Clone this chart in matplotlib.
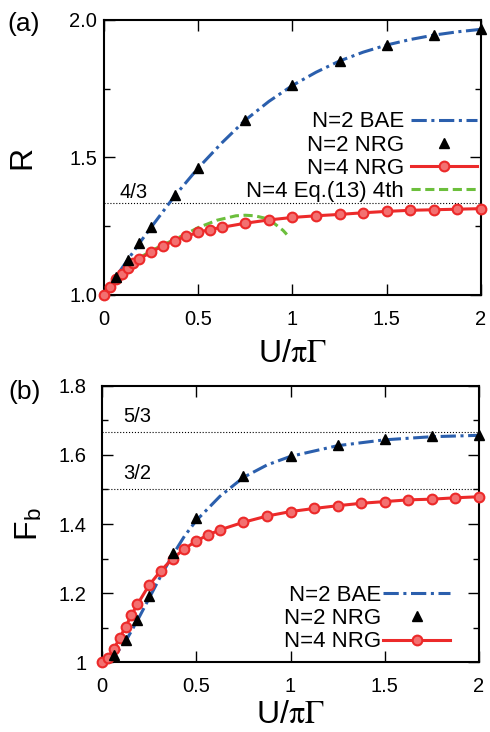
import matplotlib
matplotlib.use('Agg')
import matplotlib.pyplot as plt

plt.rcParams['font.family'] = ['Liberation Sans', 'DejaVu Sans']
plt.rcParams['mathtext.fontset'] = 'stix'

# ---- panel (a): R ----
bae_a_x = [0, 0.0625, 0.125, 0.1875, 0.25, 0.375, 0.5, 0.625, 0.75, 0.875,
           1.0, 1.125, 1.25, 1.375, 1.5, 1.625, 1.75, 1.875, 2.0]
bae_a_y = [1.0, 1.065, 1.127, 1.188, 1.246, 1.36, 1.462, 1.553, 1.636, 1.704,
           1.762, 1.81, 1.851, 1.883, 1.909, 1.929, 1.945, 1.957, 1.966]

nrg2_x = [0.0625, 0.125, 0.1875, 0.25, 0.375, 0.5, 0.75, 1.0, 1.25, 1.5, 1.75, 2.0]
nrg2_a_y = [1.067, 1.127, 1.188, 1.246, 1.362, 1.463, 1.636, 1.764, 1.851, 1.909, 1.945, 1.966]

nrg4_x = [0, 0.03125, 0.0625, 0.09375, 0.125, 0.15625, 0.1875, 0.25, 0.3125, 0.375,
          0.4375, 0.5, 0.5625, 0.625, 0.75, 0.875, 1.0, 1.125, 1.25, 1.375,
          1.5, 1.625, 1.75, 1.875, 2.0]
nrg4_a_y = [1.0, 1.03, 1.057, 1.078, 1.097, 1.115, 1.13, 1.157, 1.178, 1.198,
            1.214, 1.228, 1.238, 1.246, 1.261, 1.273, 1.282, 1.288, 1.293, 1.299,
            1.304, 1.308, 1.31, 1.312, 1.314]

eq13_x = [0, 0.05, 0.1, 0.15, 0.2, 0.25, 0.3, 0.4, 0.5, 0.6, 0.7, 0.75, 0.8,
          0.85, 0.9, 0.95, 0.97]
eq13_y = [1.0, 1.047, 1.085, 1.115, 1.14, 1.16, 1.178, 1.21, 1.245, 1.272, 1.288,
          1.29, 1.288, 1.28, 1.262, 1.235, 1.22]

# ---- panel (b): F_b ----
bae_b_x = [0, 0.0625, 0.125, 0.1875, 0.25, 0.3125, 0.375, 0.4375, 0.5, 0.625,
           0.75, 0.875, 1.0, 1.25, 1.5, 1.75, 2.0]
bae_b_y = [1.0, 1.015, 1.06, 1.12, 1.185, 1.25, 1.31, 1.365, 1.41, 1.48,
           1.535, 1.571, 1.596, 1.627, 1.644, 1.653, 1.657]

nrg2_b_y = [1.02, 1.064, 1.122, 1.19, 1.317, 1.416, 1.539, 1.598, 1.629, 1.646, 1.655, 1.658]

nrg4_b_y = [1.0, 1.013, 1.037, 1.07, 1.102, 1.136, 1.167, 1.223, 1.265, 1.30,
            1.328, 1.351, 1.368, 1.383, 1.405, 1.423, 1.436, 1.445, 1.453, 1.46,
            1.465, 1.47, 1.472, 1.476, 1.479]

blue = '#2b5fad'
red = '#ec2a2a'
green = '#6cbf3c'
bae_dash = (0, (5, 1.5, 1, 1.5))


def style_axes(ax, ypad, xlabelpad):
    ax.tick_params(which='both', direction='in', top=True, right=True,
                   labelsize=14.5, width=1.0)
    ax.tick_params(which='major', length=8)
    ax.tick_params(which='minor', length=4)
    ax.tick_params(axis='x', pad=11)
    ax.tick_params(axis='y', pad=ypad)
    for s in ax.spines.values():
        s.set_linewidth(1.5)
    ax.set_xlim(0, 2)
    ax.set_xticks([0, 0.5, 1, 1.5, 2])
    ax.set_xticklabels(['0', '0.5', '1', '1.5', '2'])
    ax.set_xlabel(r'U/$\mathrm{\pi\Gamma}$', fontsize=23, labelpad=xlabelpad)


def draw_nrg(ax, y2, y4):
    ax.plot(nrg2_x, y2, linestyle='none', marker='^', color='black', markersize=7.5,
            label='N=2 NRG', clip_on=False, zorder=4)
    ax.plot(nrg4_x, y4, color=red, linewidth=2.2, marker='o', markersize=7,
            markerfacecolor='#f37070', markeredgecolor=red, markeredgewidth=1.5,
            label='N=4 NRG', clip_on=False, zorder=3)


fig = plt.figure(figsize=(4.9, 7.32), dpi=100)

# panel (a)
ax1 = fig.add_axes([0.2122, 0.597, 0.7694, 0.3757])
ax1.axhline(4/3, color='black', linestyle=':', linewidth=0.8)
ax1.text(0.08, 1.352, '4/3', fontsize=14.5)
ax1.plot(bae_a_x, bae_a_y, color=blue, linestyle=bae_dash, linewidth=2.2,
         label='N=2 BAE')
draw_nrg(ax1, nrg2_a_y, nrg4_a_y)
ax1.plot(eq13_x, eq13_y, color=green, linestyle=(0, (3, 1.5)), linewidth=2.2,
         label='N=4 Eq.(13) 4th')
ax1.set_ylim(1.0, 2.0)
ax1.set_yticks([1.0, 1.5, 2.0])
ax1.set_yticklabels(['1.0', '1.5', '2.0'])
ax1.set_yticks([1.25, 1.75], minor=True)
style_axes(ax1, 5, 7)
ax1.set_ylabel('R', fontsize=23, labelpad=23)
ax1.legend(loc='upper right', bbox_to_anchor=(0.99, 0.668), frameon=False,
           markerfirst=False, fontsize=16, handlelength=3.0, handletextpad=0.3,
           labelspacing=0.1, borderpad=0, borderaxespad=0)
fig.text(7/490, 1 - 12/732, '(a)', fontsize=19, va='top', ha='left')

# panel (b)
ax2 = fig.add_axes([0.2082, 0.0956, 0.7694, 0.3771])
ax2.axhline(5/3, color='black', linestyle=':', linewidth=0.8)
ax2.axhline(3/2, color='black', linestyle=':', linewidth=0.8)
ax2.text(0.11, 1.695, '5/3', fontsize=14.5)
ax2.text(0.11, 1.53, '3/2', fontsize=14.5)
ax2.plot(bae_b_x, bae_b_y, color=blue, linestyle=bae_dash, linewidth=2.2,
         label='N=2 BAE')
draw_nrg(ax2, nrg2_b_y, nrg4_b_y)
ax2.set_ylim(1.0, 1.8)
ax2.set_yticks([1.0, 1.2, 1.4, 1.6, 1.8])
ax2.set_yticklabels(['1', '1.2', '1.4', '1.6', '1.8'])
ax2.set_yticks([1.1, 1.3, 1.5, 1.7], minor=True)
style_axes(ax2, 11, 3)
ax2.set_ylabel(r'F$_\mathregular{b}$', fontsize=23, labelpad=10)
ax2.legend(loc='upper right', bbox_to_anchor=(0.923, 0.279), frameon=False,
           markerfirst=False, fontsize=16, handlelength=3.0, handletextpad=0.1,
           labelspacing=0.1, borderpad=0, borderaxespad=0)
fig.text(8/490, 1 - 380/732, '(b)', fontsize=19, va='top', ha='left')

fig.savefig('out.png', dpi=100)
